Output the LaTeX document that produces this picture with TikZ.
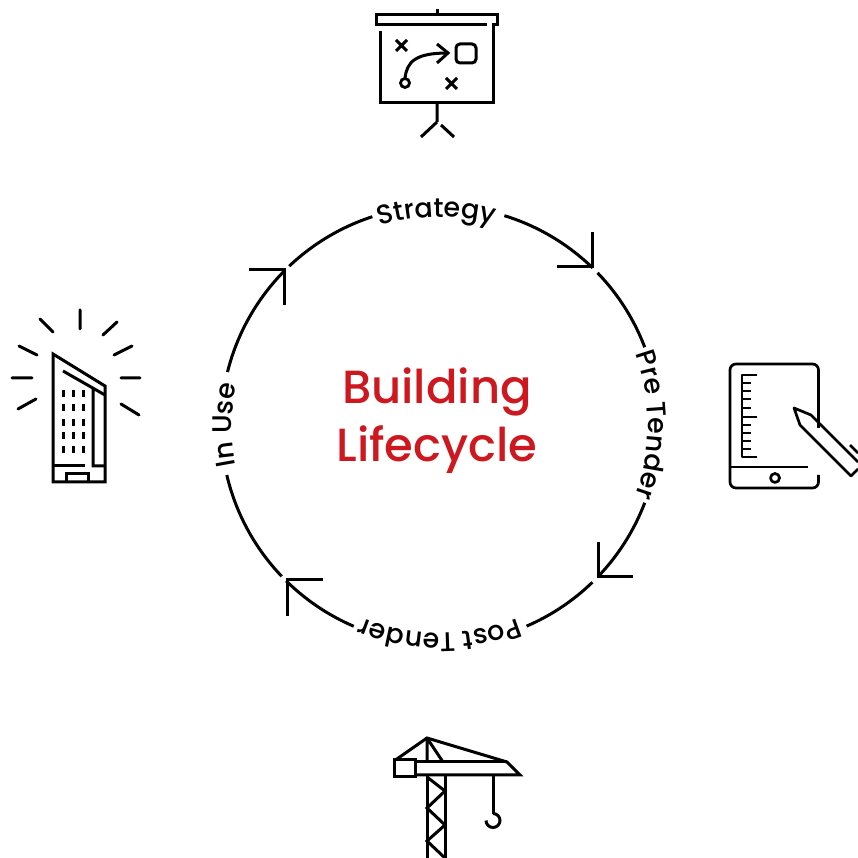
\documentclass[tikz,border=0pt]{standalone}
\usepackage{fontspec}
\setmainfont{Poppins Medium}
\usetikzlibrary{decorations.text}
\definecolor{lifered}{HTML}{CE1820}
\newcommand{\arcpath}[3]{(#1:#3pt) arc[start angle=#1,end angle=#2,radius=#3pt]}
\tikzset{
  ring/.style={line width=3pt,line cap=butt},
  arrowlines/.style={line width=3pt,line join=miter},
  icon/.style={line width=3pt,line join=miter,line cap=butt,black},
  thin icon/.style={line width=2.7pt,line join=round,black},
  curved/.style={decorate,decoration={text along path,text align=center,raise=0pt,
    text={|\fontsize{27pt}{27pt}\selectfont|#1}}},
}
\begin{document}
\begin{tikzpicture}[x=1pt,y=1pt]
\useasboundingbox (0,0) rectangle (858,858);
\fill[white] (0,0) rectangle (858,858);
% ring
\begin{scope}[shift={(440pt,433pt)}]
  \draw[ring] \arcpath{72.9}{45.8}{219};
  \draw[ring] \arcpath{44}{20.8}{219};
  \draw[ring] \arcpath{-20.8}{-43.9}{219};
  \draw[ring] \arcpath{-45.9}{-66.7}{219};
  \draw[ring] \arcpath{-113.2}{-134.6}{219};
  \draw[ring] \arcpath{-136.3}{-166.8}{219};
  \draw[ring] \arcpath{166}{135}{219};
  \draw[ring] \arcpath{133.5}{108}{219};
  \path[curved={Strategy}] \arcpath{126}{56}{208};
  \path[curved={Pre Tender}] \arcpath{35}{-35}{208};
  \path[curved={Post Tender}] \arcpath{-55}{-125}{208};
  \path[curved={In Use}] \arcpath{-145}{-215}{208};
\end{scope}
\node[text=lifered,font=\fontsize{46.5pt}{58pt}\selectfont,align=center] (title) at (437,437) {Building\\Lifecycle};
\begin{scope}[yscale=-1,yshift=-858pt]
  % arrowheads
  \draw[arrowlines] (592.5,232) -- (592.5,266.5) -- (557,266.5);
  \draw[arrowlines] (598,542) -- (598,577) -- (633,577);
  \draw[arrowlines] (323,580) -- (287,580) -- (287,616);
  \draw[arrowlines] (249,270) -- (284,270) -- (284,305);
  % presentation board
  \draw[icon] (437,9) -- (437,15);
  \draw[icon] (487,25) -- (376,25) -- (376,15) -- (497,15) -- (497,25) -- (493.5,25) -- (493.5,103) -- (380,103) -- (380,31);
  \draw[icon] (437,103) -- (437,122) (421,137) -- (437,122) (441,125) -- (454,137);
  \draw[icon] (396,40) -- (407,51) (407,40) -- (396,51) (446,78) -- (457,89) (457,78) -- (446,89);
  \draw[icon,rounded corners=4pt] (456,44) rectangle (476,63);
  \draw[icon] (405,78) .. controls (407,62) and (415,53) .. (448,53);
  \draw[icon] (437,44) -- (448,53) -- (437,63);
  \draw[icon,line width=2.8pt,fill=white] (405,83) circle (4.5pt);
  % building
  \draw[icon,line cap=round] (80,310) -- (80,329) (40,319) -- (53,332) (117,322) -- (103,335)
     (19,346) -- (37,355) (132,346) -- (114,355) (12,378) -- (32,378) (121,378) -- (140,378)
     (18,409) -- (36,399) (121,404) -- (139,415);
  \draw[icon] (53,354) -- (105,386) -- (105,482) -- (53,482) -- cycle;
  \draw[icon] (63,371) -- (105,395) (93,389) -- (93,466) -- (105,466);
  \draw[icon] (53,466) -- (85,466) (66,482) -- (66,474) -- (88,474) -- (88,482);
  \foreach \x in {63,73,83} \foreach \y in {394,408,423,436,450}
    \draw[line width=3pt] (\x,\y-3.5) -- (\x,\y+3.5);
  % tablet
  \draw[thin icon,rounded corners=6pt] (818.5,428) -- (818.5,364) -- (730,364) -- (730,488) -- (818.5,488) -- (818.5,475);
  \draw[thin icon] (730,467) -- (808,467);
  \draw[thin icon] (775,478) circle (4.5pt);
  \draw[thin icon] (757,375) -- (742,375) -- (742,457) -- (757,457);
  \foreach \y in {383,391,399,408,425,433,441,449} \draw[thin icon] (742,\y) -- (751,\y);
  \draw[thin icon] (742,417) -- (757,417);
  \draw[thin icon] (858,469) -- (851,476) -- (800,425) -- (794,408) -- (811,415) -- (858,462);
  \draw[thin icon] (850,445) -- (858,453);
  % crane
  \draw[icon] (394,761) -- (427,738) -- (507,762) -- (520,775) -- (394,775);
  \draw[icon] (415,762) -- (507,762);
  \draw[icon] (427,738) -- (427,762) (427,738) -- (443,762);
  \draw[icon,fill=white] (394,760) rectangle (415,777);
  \draw[icon] (427,775) -- (427,858) (445,775) -- (445,858);
  \draw[icon] (427,777) -- (445,791) -- (427,808) -- (445,825) -- (427,841) -- (445,858);
  \draw[icon] (493,775) -- (493,814);
  \draw[icon] (493,813.5) arc[start angle=-90,end angle=180,radius=7pt];
\end{scope}
\end{tikzpicture}
\end{document}
